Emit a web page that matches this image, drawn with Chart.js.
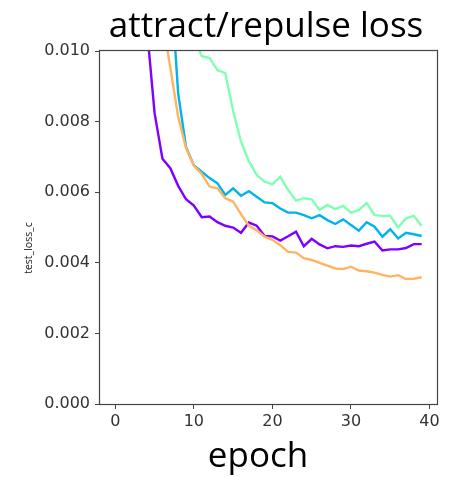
<!DOCTYPE html>
<html>
<head>
<meta charset="utf-8">
<script src="https://cdn.jsdelivr.net/npm/chart.js@4.4.0/dist/chart.umd.min.js"></script>
<style>
  html, body { margin: 0; padding: 0; background: #fff; }
</style>
</head>
<body>
<canvas id="lossChart" width="459" height="477"></canvas>
<script>
// epochs 0..39
const epochs = [0, 1, 2, 3, 4, 5, 6, 7, 8, 9, 10, 11, 12, 13, 14, 15, 16, 17, 18, 19,
  20, 21, 22, 23, 24, 25, 26, 27, 28, 29, 30, 31, 32, 33, 34, 35, 36, 37, 38, 39];

// (early epochs are above the visible range)
const purpleLoss = [0.060, 0.040, 0.026, 0.016, 0.0107, 0.00824, 0.00695, 0.00668, 0.00618, 0.00580,
  0.00562, 0.00529, 0.00531, 0.00515, 0.00505, 0.00500, 0.00485, 0.00514, 0.00505, 0.00476,
  0.00475, 0.00463, 0.00475, 0.00488, 0.00447, 0.00468, 0.00452, 0.00441, 0.00447, 0.00445,
  0.00449, 0.00447, 0.00454, 0.00460, 0.00435, 0.00438, 0.00438, 0.00442, 0.00453, 0.00453];
const blueLoss = [0.080, 0.060, 0.040, 0.030, 0.022, 0.017, 0.014, 0.0122, 0.0088, 0.00728,
  0.00676, 0.00658, 0.00640, 0.00625, 0.00592, 0.00611, 0.00590, 0.00603, 0.00587, 0.00571,
  0.00569, 0.00554, 0.00542, 0.00542, 0.00535, 0.00526, 0.00535, 0.00521, 0.00510, 0.00523,
  0.00507, 0.00491, 0.00515, 0.00502, 0.00474, 0.00495, 0.00469, 0.00485, 0.00481, 0.00476];
const greenLoss = [0.090, 0.070, 0.055, 0.045, 0.035, 0.028, 0.022, 0.017, 0.0135, 0.0115,
  0.0104, 0.00985, 0.00980, 0.00946, 0.00937, 0.00830, 0.00743, 0.00688, 0.00649, 0.00630,
  0.00623, 0.00644, 0.00606, 0.00576, 0.00583, 0.00580, 0.00550, 0.00564, 0.00552, 0.00561,
  0.00542, 0.00550, 0.00569, 0.00535, 0.00533, 0.00533, 0.00500, 0.00526, 0.00533, 0.00504];
const orangeLoss = [0.070, 0.050, 0.035, 0.025, 0.018, 0.0135, 0.0109, 0.00953, 0.00814, 0.00725,
  0.00675, 0.00652, 0.00616, 0.00611, 0.00583, 0.00573, 0.00538, 0.00505, 0.00492, 0.00474,
  0.00465, 0.00450, 0.00431, 0.00429, 0.00413, 0.00408, 0.00400, 0.00392, 0.00384, 0.00382,
  0.00389, 0.00378, 0.00376, 0.00372, 0.00366, 0.00361, 0.00365, 0.00354, 0.00355, 0.00359];

const yTicks = [0, 0.002, 0.004, 0.006, 0.008, 0.010];
const xTicks = [0, 10, 20, 30, 40];

function toPoints(values) {
  return values.map((v, i) => ({ x: epochs[i], y: v }));
}

function makeLine(values, color, order) {
  return {
    data: toPoints(values),
    borderColor: color,
    borderWidth: 2.4,
    pointRadius: 0,
    tension: 0,
    fill: false,
    clip: 0,
    order: order
  };
}

// frame + titles drawn like matplotlib
const decorations = {
  id: "decorations",
  afterDraw(chart) {
    const ctx = chart.ctx;
    const a = chart.chartArea;
    ctx.save();
    ctx.strokeStyle = "#444";
    ctx.lineWidth = 1.2;
    ctx.strokeRect(Math.round(a.left) - 0.5, Math.round(a.top) - 0.5,
      Math.round(a.right - a.left) + 1, Math.round(a.bottom - a.top) + 1);

    ctx.fillStyle = "#000";
    ctx.textAlign = "center";
    ctx.textBaseline = "alphabetic";
    ctx.font = '35px "Open Sans"';
    ctx.fillText("attract/repulse loss", a.left + 166, 37);
    ctx.fillText("epoch", a.left + 158, 467);

    ctx.fillStyle = "#222";
    ctx.font = '10.5px "Open Sans"';
    ctx.translate(29, 248);
    ctx.rotate(-Math.PI / 2);
    ctx.textBaseline = "middle";
    ctx.fillText("test_loss_c", 0, 0);
    ctx.restore();
  }
};

const ctx = document.getElementById("lossChart").getContext("2d");
const lossChart = new Chart(ctx, {
  type: "line",
  data: {
    datasets: [
      makeLine(purpleLoss, "#8000ff", 3),
      makeLine(blueLoss, "#00b4eb", 2),
      makeLine(greenLoss, "#80ffb4", 1),
      makeLine(orangeLoss, "#ffb462", 0)
    ]
  },
  options: {
    responsive: false,
    animation: false,
    layout: { padding: { top: 51, right: 22, left: 0, bottom: 0 } },
    plugins: {
      legend: { display: false },
      tooltip: { enabled: false },
      title: { display: false }
    },
    scales: {
      x: {
        type: "linear",
        min: -1.95,
        max: 40.95,
        afterFit: (scale) => { scale.height = 73; },
        afterBuildTicks: (scale) => { scale.ticks = xTicks.map(v => ({ value: v })); },
        border: { display: false },
        grid: { drawOnChartArea: false, drawTicks: true, tickLength: 5, color: "#444" },
        ticks: {
          color: "#333",
          padding: 3,
          maxRotation: 0,
          font: { family: "DejaVu Sans", size: 16 },
          callback: (v) => String(v)
        }
      },
      y: {
        min: 0,
        max: 0.010,
        afterFit: (scale) => { scale.width = 100; },
        afterBuildTicks: (scale) => { scale.ticks = yTicks.map(v => ({ value: v })); },
        border: { display: false },
        grid: { drawOnChartArea: false, drawTicks: true, tickLength: 5, color: "#444" },
        ticks: {
          color: "#333",
          padding: 5,
          font: { family: "DejaVu Sans", size: 16 },
          callback: (v) => v.toFixed(3)
        }
      }
    }
  },
  plugins: [decorations]
});
</script>
</body>
</html>
